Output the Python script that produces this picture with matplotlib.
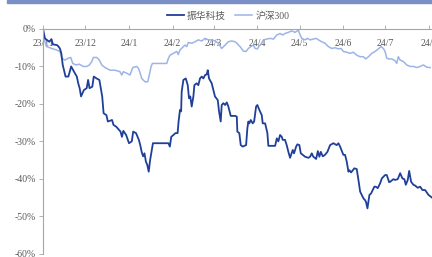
import numpy as np
import pandas as pd
import matplotlib
matplotlib.use("Agg")
import matplotlib.pyplot as plt
import matplotlib.dates as mdates
from matplotlib.patches import Rectangle

plt.rcParams['font.family'] = ['Liberation Serif', 'Noto Sans CJK SC', 'DejaVu Sans']

start = pd.Timestamp("2023-11-01")

# 振华科技 cumulative return (%), by day offset from start
zh_days = [0, 1.4, 3, 4.5, 6, 7, 10, 11, 12, 13, 14, 16, 18, 20, 22, 24, 25, 26, 27, 29,
           31, 32, 33, 35, 36, 38, 40, 42, 43, 45, 46, 49, 50, 52, 55, 56, 57, 59, 61, 63,
           64, 66, 68, 69, 70, 71, 72, 73, 74, 75, 76, 77, 78, 89, 90, 91, 94, 95.5, 96.2, 97.2,
           98, 98.4, 99.6, 101.3, 102.7, 103.6, 104.5, 105.5, 106.7, 107.4, 109, 110.2, 111.4, 112.6, 113.8, 115,
           116.2, 116.9, 117.8, 119.7, 122, 124, 124.9, 126.1, 126.8, 128, 129.2, 130.4, 131.5, 133.2,
           136.3, 137.5, 137.9, 139.3, 140.3, 141.7, 144.1, 145, 145.7, 146.4, 147.4, 148.8, 149.8, 151.2,
           152.1, 153.5, 155.2, 155.9, 157.6, 159.2, 159.9, 164.7, 165.9, 167, 168.2, 169.4, 170.1, 171.7,
           172.9, 174.1, 175.3, 177.2, 178.1, 179.6, 180.5, 181.9, 182.9, 184.3, 185.9, 188.3, 189.5, 190.7,
           191.8, 193.8, 195, 196.1, 197.1, 198.5, 200.1, 201.8, 203.7, 206, 208.4, 209.6, 210.8, 213.1,
           214.3, 215.5, 216.7, 217.4, 218.6, 220.9, 222.6, 223.8, 225, 227.3, 228.5, 229.2, 230.2, 231.6,
           232.8, 235.1, 236.1, 237.5, 239.2, 240.4, 242.7, 243.9, 245.6, 246.3, 248.6, 249.8, 251.7, 253.4,
           255, 256.4, 257.4, 258.8, 259.8, 261.2, 262.8, 264, 265.9, 267.6, 269.2, 271.1, 273.5, 275.9]
zh_vals = [0, -2.5, -3.0, -3.4, -2.7, -4.1, -4.3, -4.7, -5.2, -6.5, -9.6, -12.7, -12.7, -10.0, -11.4, -12.7, -14.5, -15.8, -18.0, -16.3,
           -15.8, -13.6, -15.8, -15.4, -12.7, -13.2, -13.6, -18.0, -22.5, -23.0, -24.7, -24.3, -25.6, -26.1, -27.4, -28.8, -27.2, -28.3, -30.5, -30.0,
           -27.4, -27.8, -29.6, -31.0, -32.8, -34.0, -33.2, -35.4, -36.3, -38.1, -35.0, -32.8, -30.5, -30.5, -31.4, -28.8, -27.8, -27.8, -24.7, -21.6,
           -22.0, -16.7, -13.6, -13.2, -15.0, -18.5, -18.0, -20.7, -18.0, -15.0, -14.5, -15.0, -13.2, -12.7, -13.2, -12.3,
           -12.1, -11.0, -13.2, -14.5, -18.0, -19.0, -22.0, -24.7, -20.3, -19.8, -20.3, -19.6, -20.7, -23.2,
           -23.2, -23.4, -27.4, -27.8, -31.0, -31.4, -31.0, -26.5, -24.7, -25.2, -24.3, -25.2, -24.7, -20.7,
           -20.3, -21.6, -23.0, -25.2, -25.2, -27.8, -31.2, -31.2, -29.2, -30.0, -28.3, -28.8, -29.6, -29.6,
           -31.0, -32.8, -34.4, -32.3, -33.2, -31.4, -30.8, -31.0, -33.2, -33.6, -34.1, -34.4, -34.1, -33.2,
           -34.1, -34.7, -32.6, -34.1, -32.8, -34.0, -33.6, -32.8, -31.0, -30.5, -31.0, -30.5, -31.4, -33.6,
           -33.6, -35.4, -38.1, -37.7, -38.3, -37.2, -37.4, -40.3, -43.4, -45.2, -45.7, -46.2, -47.9, -44.3,
           -43.9, -42.1, -42.1, -42.5, -41.2, -39.9, -39.0, -39.0, -40.9, -40.8, -40.1, -40.3, -40.1, -38.5,
           -39.9, -40.1, -41.6, -40.3, -37.9, -40.8, -41.6, -41.8, -42.4, -42.1, -43.0, -43.0, -44.3, -45.0]

# 沪深300 cumulative return (%)
hs_days = [0, 1, 2.6, 6.2, 9.7, 12.1, 13.3, 15.6, 18, 19.7, 21.1, 23.4, 25.8, 28.6, 31, 32.9, 34.6, 35.7, 38.1, 40,
           41.7, 44, 47.6, 51.1, 54.6, 55.9, 57, 59.4, 61.7, 63.7, 66.5, 67.7, 68.8, 70, 72.4, 74.3, 75.2, 76.7, 77.6, 87.8,
           89, 90.1, 92.5, 94.9, 96, 97.2, 99.6, 100.8, 102, 103.1, 105.5, 107.9, 110.2, 112.6, 115, 117.3, 119.7, 122.1, 124.4, 126.8,
           129.2, 131.5, 133.9, 136.3, 137.5, 139.8, 142.2, 144.1, 145.7, 147.4, 149.3, 150.5, 152.1, 153.5, 155.2, 156.4, 158.8, 161.1, 163.5, 165.9,
           168.2, 170.1, 171.7, 174.1, 176.5, 178.8, 181.2, 182.4, 183.6, 185.9, 187.6, 189.5, 191.8, 193.8, 195.4, 197.8, 200.1, 202.5, 204.9, 207.2,
           209.6, 211.5, 213.1, 215.5, 217.9, 220.2, 222.6, 225, 227.3, 229, 230.9, 233.3, 235.6, 238, 239.9, 241.5, 242.7, 243.9, 245.6, 247.5,
           249.8, 251, 252.1, 253.4, 255.7, 258.1, 260.5, 262.8, 265.2, 267.6, 269.9, 272.3, 274.7]
hs_vals = [0, -3.0, -4.7, -5.2, -5.6, -6.0, -7.8, -8.3, -7.8, -7.6, -9.2, -9.6, -9.4, -10.0, -10.0, -9.6, -8.7, -7.6, -7.6, -8.3,
           -9.6, -10.3, -11.0, -11.0, -11.4, -12.3, -11.4, -11.8, -12.3, -10.3, -10.0, -10.5, -11.6, -13.2, -14.1, -14.1, -12.7, -10.0, -9.2, -9.2,
           -7.8, -7.0, -6.5, -6.0, -6.8, -5.6, -4.7, -4.3, -4.7, -3.6, -3.8, -3.4, -2.9, -3.2, -2.5, -2.9, -2.9, -3.2, -3.8, -5.2,
           -4.3, -3.4, -3.2, -3.4, -3.8, -4.7, -5.9, -6.0, -5.2, -4.7, -4.3, -5.2, -5.3, -4.5, -3.8, -2.9, -2.7, -2.5, -2.7, -1.6,
           -1.2, -1.6, -1.2, -0.9, -0.5, -0.9, -0.3, -1.6, -2.5, -2.9, -2.5, -2.9, -2.7, -2.5, -2.9, -3.4, -3.8, -4.7, -5.2, -5.0,
           -5.3, -5.2, -6.0, -6.2, -6.5, -6.2, -7.0, -7.4, -7.4, -8.0, -7.4, -6.5, -6.0, -5.3, -4.7, -5.2, -6.0, -7.8, -8.0, -8.0,
           -8.5, -9.2, -7.4, -8.3, -8.7, -9.6, -10.0, -10.0, -10.3, -10.0, -9.6, -10.2, -10.3]

y_ticks = [0, -10, -20, -30, -40, -50, -60]

zh_dates = start + pd.to_timedelta(zh_days, unit="D")
hs_dates = start + pd.to_timedelta(hs_days, unit="D")

fig = plt.figure(figsize=(4.32, 2.57), dpi=100)
ax = fig.add_axes([43 / 432, 1 - 253.7 / 257, 1 - 43 / 432, (253.7 - 29) / 257])

ax.plot(hs_dates, hs_vals, color="#9db4e8", lw=1.1, label="沪深300")
ax.plot(zh_dates, zh_vals, color="#1f3f99", lw=1.3, label="振华科技")

ax.set_ylim(-60, 0)
ax.set_xlim(start, start + pd.Timedelta(days=276))
ax.set_yticks(y_ticks)
ax.set_yticklabels([f"{v}%" for v in y_ticks])
ax.xaxis.set_major_locator(mdates.MonthLocator())
ax.xaxis.set_major_formatter(mdates.DateFormatter("%y/%-m"))

for s in ["right", "bottom"]:
    ax.spines[s].set_visible(False)
for s in ["left", "top"]:
    ax.spines[s].set_color("#a6a6a6")
    ax.spines[s].set_linewidth(0.8)

ax.tick_params(axis="x", top=True, bottom=False, labeltop=True, labelbottom=False,
               direction="out", length=3, width=0.6, color="#a6a6a6",
               pad=-17, labelsize=7, labelcolor="#595959")
ax.tick_params(axis="y", direction="out", length=3, width=0.6, color="#a6a6a6",
               labelsize=7, labelcolor="#595959", pad=2)

handles, labels = ax.get_legend_handles_labels()
leg = fig.legend(handles[::-1], labels[::-1], loc="center", bbox_to_anchor=(228 / 432, 1 - 16 / 257),
                 ncol=2, frameon=False, fontsize=7, handlelength=1.8, handletextpad=0.3,
                 columnspacing=0.9, borderpad=0)
for t in leg.get_texts():
    t.set_color("#595959")

fig.patches.append(Rectangle((7 / 432, 1 - 2.5 / 257), 1, 2.5 / 257, transform=fig.transFigure,
                             color="#7a8fc6", zorder=5))

fig.savefig("out.png", dpi=100)
